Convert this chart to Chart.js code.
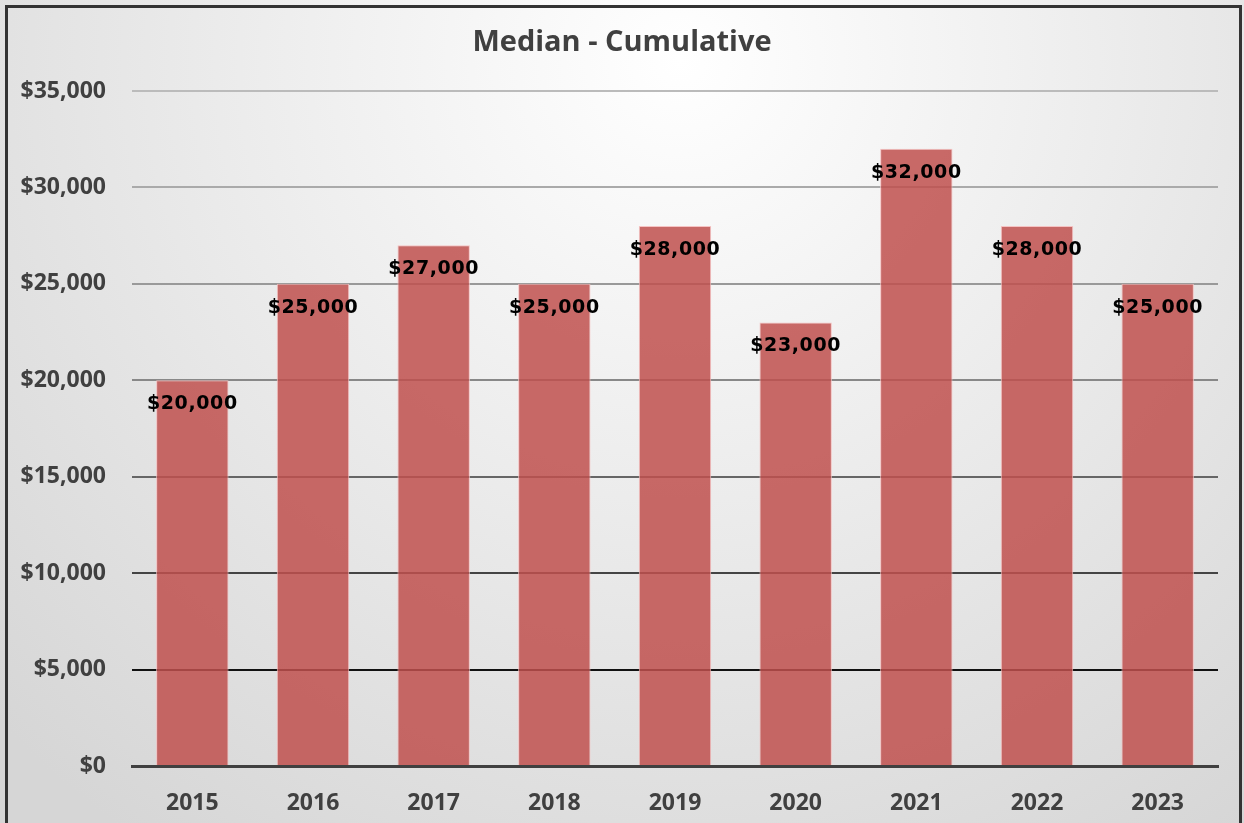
<!DOCTYPE html>
<html>
<head>
<meta charset="utf-8">
<script src="https://cdn.jsdelivr.net/npm/chart.js@4"></script>
<style>
  body { margin: 0; background: #fff; }
  #wrap { width: 1244px; height: 823px; }
</style>
</head>
<body>
<div id="wrap"><canvas id="mc" width="1244" height="823"></canvas></div>
<script>
const years = ['2015', '2016', '2017', '2018', '2019', '2020', '2021', '2022', '2023'];
const medians = [20000, 25000, 27000, 25000, 28000, 23000, 32000, 28000, 25000];
const yTicks = [0, 5000, 10000, 15000, 20000, 25000, 30000, 35000];
const chartTitle = 'Median - Cumulative';

const money = v => '$' + v.toLocaleString('en-US');

// grid gets darker toward the bottom, like the original
const gridShade = {0: '#404040', 5000: '#111', 10000: '#444', 15000: '#666',
    20000: '#888', 25000: '#999', 30000: '#aaa', 35000: '#bbb'};

const backdrop = {
    id: 'backdrop',
    beforeDraw(chart) {
        const g = chart.ctx;
        const grad = g.createRadialGradient(680, 60, 0, 680, 60, 950);
        grad.addColorStop(0, '#ffffff');
        grad.addColorStop(1, '#d6d6d6');
        g.save();
        g.fillStyle = grad;
        g.fillRect(0, 0, chart.width, chart.height);
        g.strokeStyle = '#333';
        g.lineWidth = 3;
        g.strokeRect(6.5, 6.5, 1234, 900);
        g.fillStyle = '#404040';
        g.font = 'bold 29px "Open Sans"';
        g.textAlign = 'center';
        g.textBaseline = 'middle';
        g.fillText(chartTitle, 622, 43);
        g.restore();
    }
};

const valueLabels = {
    id: 'valueLabels',
    afterDatasetsDraw(chart) {
        const g = chart.ctx;
        g.save();
        g.fillStyle = '#000';
        g.font = 'bold 19px "DejaVu Sans"';
        g.letterSpacing = '0.6px';
        g.textAlign = 'center';
        g.textBaseline = 'middle';
        chart.getDatasetMeta(0).data.forEach((bar, i) => {
            g.fillText(money(medians[i]), bar.x, bar.y + 24);
        });
        g.restore();
    }
};

new Chart(document.getElementById('mc'), {
    type: 'bar',
    data: {
        labels: years,
        datasets: [{
            data: medians,
            backgroundColor: 'rgba(192, 80, 77, 0.85)',
            borderColor: 'rgba(245, 190, 190, 0.9)',
            borderWidth: 1,
            barPercentage: 0.6,
            categoryPercentage: 1
        }]
    },
    options: {
        responsive: false,
        animation: false,
        layout: { padding: { top: 91, right: 26, left: 0, bottom: 0 } },
        plugins: { legend: { display: false }, tooltip: { enabled: false } },
        scales: {
            x: {
                grid: { display: false },
                border: { color: '#404040', width: 3 },
                ticks: { color: '#404040', font: { family: 'Open Sans', weight: 'bold', size: 23 }, padding: 16 },
                afterFit: s => { s.height = 57; }
            },
            y: {
                min: 0,
                max: 35000,
                afterBuildTicks: s => { s.ticks = yTicks.map(v => ({ value: v })); },
                border: { display: false },
                grid: {
                    drawTicks: false,
                    lineWidth: 2,
                    color: c => gridShade[c.tick.value] || '#999'
                },
                ticks: {
                    color: '#404040',
                    font: { family: 'Open Sans', weight: 'bold', size: 23 },
                    padding: 26,
                    callback: v => money(v)
                },
                afterFit: s => { s.width = 132; }
            }
        }
    },
    plugins: [backdrop, valueLabels]
});
</script>
</body>
</html>
